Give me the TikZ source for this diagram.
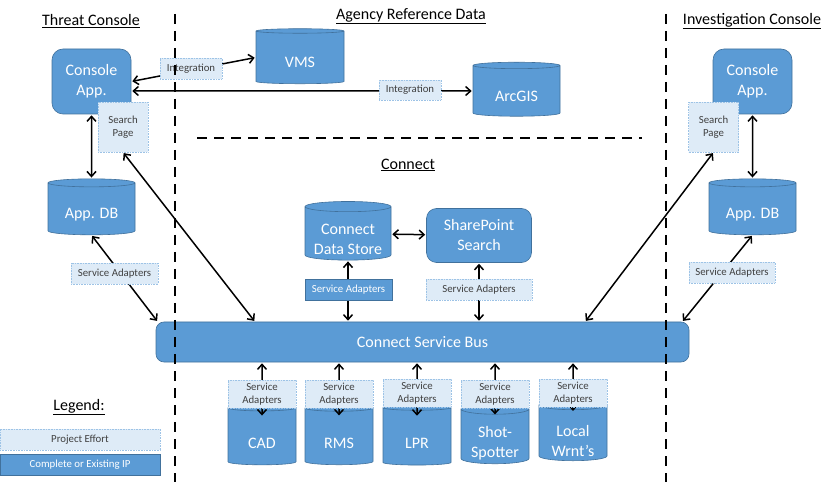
\documentclass[tikz,border=0pt]{standalone}
\usepackage{fontspec}
\setmainfont{Carlito}
\usetikzlibrary{arrows.meta, shapes.geometric, calc}
\definecolor{ipblue}{HTML}{5B9BD5}
\definecolor{ipedge}{HTML}{41719C}
\definecolor{peblue}{HTML}{DEEBF7}
\definecolor{peedge}{HTML}{9DC3E6}
\definecolor{petext}{HTML}{404040}
\tikzset{shorten >=1pt, shorten <=1pt, >={Straight Barb[length=5pt,width=9pt]}}
\tikzset{
  big/.style={font=\fontsize{16}{20}\selectfont},
  small/.style={font=\fontsize{10.8}{13}\selectfont},
  ip/.style={big, fill=ipblue, draw=ipedge, line width=0.6pt, text=white, align=center, inner sep=0pt},
  app/.style={ip, rounded corners=11pt, minimum width=79, minimum height=65},
  db/.style={ip, cylinder, shape border rotate=90, aspect=0.15, minimum width=87, minimum height=56,
    text height=20pt, text depth=0pt},
  twoline/.style={text height=41pt, text depth=-10pt},
  pe/.style={small, fill=peblue, draw=peedge, densely dotted, line width=0.6pt, text=petext, align=center, inner sep=0pt},
  link/.style={<->, line width=1.5pt},
  divider/.style={line width=2.6pt, dash pattern=on 10pt off 7pt}
}

\begin{document}
\begin{tikzpicture}[x=1pt, y=-1pt]
	\useasboundingbox (0,0) rectangle (830,486);
	\begin{scope}[every node/.append style={big}]
		\node (tct) at (91,21) {\underline{Threat Console}};
		\node (agt) at (411,16) {\underline{Agency Reference Data}};
		\node (ict) at (752,21) {\underline{Investigation Console}};
		\node (cnt) at (408,165) {\underline{Connect}};
		\node (lgt) at (79,407) {\underline{Legend:}};
	\end{scope}

	% consoles and data stores
	\node[app] (tapp) at (91.5,81.5) {Console\\App.};
	\node[pe, minimum size=50] (tsearch) at (123,127) {Search\\Page};
	\node[db] (tdb) at (91.5,209) {App. DB};
	\node[app] (iapp) at (752.5,81.5) {Console\\App.};
	\node[pe, minimum size=50] (isearch) at (713.5,127) {Search\\Page};
	\node[db] (idb) at (752.5,209) {App. DB};
	\node[db, minimum height=55, minimum width=88] (vms) at (300,57.5) {VMS};
	\node[db, minimum height=54, text height=22pt] (arcgis) at (516.5,91) {ArcGIS};
	\node[db, twoline, minimum width=86, minimum height=57, text height=43pt] (cds) at (348,233.5) {Connect\\Data Store};
	\node[app, rounded corners=10pt, minimum width=105, minimum height=54] (sps) at (479,235.5) {SharePoint\\Search};
	\node[ip, rounded corners=8pt, minimum width=533, minimum height=40] (bus) at (422.5,342) {Connect Service Bus};
	\node[db, aspect=0.22, minimum width=68, minimum height=60, text height=23pt] (cad) at (262,436.5) {CAD};
	\node[db, aspect=0.22, minimum width=68, minimum height=60, text height=23pt] (rms) at (339,436.5) {RMS};
	\node[db, aspect=0.22, minimum width=68, minimum height=60, text height=23pt] (lpr) at (417,436.5) {LPR};
	\node[db, twoline, aspect=0.22, minimum width=68, minimum height=60] (shot) at (495,436.5) {Shot-\\Spotter};
	\node[db, twoline, aspect=0.22, minimum width=68, minimum height=60, text height=46pt, text depth=-12pt] (wrnt) at (573,433) {Local\\Wrnt’s};

	\path[every edge/.style={draw, link}]
		(tapp) edge (tdb) (tapp.east) edge (vms.west) ([yshift=-9.5pt]tapp.east) edge (arcgis.west)
		(tdb.south) edge ($(bus.north west)+(2,0)$) (tsearch.south) edge ($(bus.north west)!.186!(bus.north east)$)
		(iapp) edge (idb) (idb.south) edge ($(bus.north east)+(-7,0)$) (isearch.south) edge ($(bus.north west)!.805!(bus.north east)$)
		(cds) edge (sps) (cds.south) edge (cds.south |- bus.north) (sps.south) edge (sps.south |- bus.north)
		(cad |- bus.south) edge ($(cad.north)+(0,12)$) (rms |- bus.south) edge ($(rms.north)+(0,12)$)
		(lpr |- bus.south) edge ($(lpr.north)+(0,12)$) (shot |- bus.south) edge ($(shot.north)+(0,12)$)
		(wrnt |- bus.south) edge ($(wrnt.north)+(0,12)$);

	% adapters and integrations
	\node[pe, minimum width=62, minimum height=21] (int1) at (191,68.5) {Integration};
	\node[pe, minimum width=62, minimum height=20] (int2) at (410,90) {Integration};
	\node[pe, minimum width=87, minimum height=21] (tsa) at (114.5,273.5) {Service Adapters};
	\node[pe, minimum width=86, minimum height=21] (isa) at (732,272.5) {Service Adapters};
	\node[ip, small, minimum width=87, minimum height=21] (cdsa) at (348.5,289.5) {Service Adapters};
	\node[pe, minimum width=106, minimum height=21] (spsa) at (479,289.5) {Service Adapters};
	\node[pe, minimum width=68, minimum height=28] (cadsa) at (262,394) {Service\\Adapters};
	\node[pe, minimum width=68, minimum height=28] (rmssa) at (339,394) {Service\\Adapters};
	\node[pe, minimum width=68, minimum height=28] (lprsa) at (417,393) {Service\\Adapters};
	\node[pe, minimum width=68, minimum height=28] (shotsa) at (495,394) {Service\\Adapters};
	\node[pe, minimum width=68, minimum height=28] (wrntsa) at (573,393) {Service\\Adapters};

	% legend
	\node[pe, minimum width=160, minimum height=21] (lgpe) at (80,439.5) {Project Effort};
	\node[ip, small, minimum width=160, minimum height=21] (lgip) at (80,464.5) {Complete or Existing IP};

	\draw[divider] (175,14) -- (175,482) (666,14) -- (666,482) (196,138) -- (643,138);
\end{tikzpicture}
\end{document}
